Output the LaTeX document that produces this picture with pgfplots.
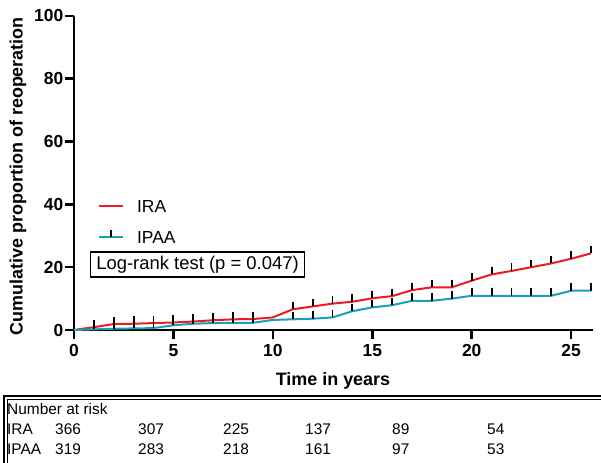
\documentclass[border=0pt]{standalone}
\usepackage{fontspec}
\setmainfont{Liberation Sans}
\usepackage{pgfplots}
\usepackage{pgfplotstable}
\pgfplotsset{compat=1.18}

\definecolor{ira}{RGB}{237,28,36}
\definecolor{ipaa}{RGB}{22,160,186}

% censoring tick: short bar going up from the curve
\pgfdeclareplotmark{censor}{%
  \pgfpathmoveto{\pgfqpoint{0pt}{0pt}}%
  \pgfpathlineto{\pgfqpoint{0pt}{7.5bp}}%
  \pgfusepathqstroke}

\pgfplotstableread{
t  ira   ipaa
0  0.0   0.0
1  0.9   0.2
2  1.9   0.4
3  2.0   0.5
4  2.2   0.6
5  2.4   1.5
6  2.7   2.0
7  3.1   2.2
8  3.4   2.3
9  3.5   2.3
10 4.0   3.2
11 6.6   3.4
12 7.5   3.6
13 8.4   4.0
14 9.0   6.0
15 10.1  7.2
16 10.8  7.9
17 12.7  9.3
18 13.6  9.3
19 13.6  10.0
20 15.7  10.9
21 17.7  10.9
22 18.8  10.9
23 20.0  10.9
24 21.2  10.9
25 22.7  12.5
26 24.4  12.5
}\kmdata

\begin{document}
\begin{tikzpicture}
\begin{axis}[
    at={(74bp,133bp)}, anchor=south west,
    scale only axis, width=519bp, height=314bp,
    xmin=0, xmax=26.1, ymin=0, ymax=100,
    axis x line=bottom, axis y line=left,
    axis line style={line width=2.9bp, -},
    xtick={0,5,...,25}, ytick={0,20,...,100},
    tick align=outside, major tick length=9bp,
    tick style={line width=2.6bp, black},
    /pgf/number format/assume math mode=true,
    tick label style={font=\bfseries\fontsize{17.5}{20}\selectfont, inner sep=1.5bp},
    xticklabel style={yshift=-4bp},
    xlabel={Time in years},
    ylabel={Cumulative proportion of reoperation},
    label style={font=\bfseries\fontsize{18}{21}\selectfont},
    xlabel style={at={(axis description cs:0.499,-0.162)}, anchor=center},
    ylabel style={at={(axis description cs:-0.108,0.49)}, anchor=center},
    clip=false,
    legend style={at={(rel axis cs:0.046,0.415)}, anchor=north west,
        draw=none, fill=none, inner sep=0pt, row sep=16.5bp,
        font=\fontsize{17.5}{20}\selectfont,
        nodes={inner sep=0pt, text height=12.5bp, text depth=0pt},
        /tikz/every odd column/.append style={column sep=13bp}},
    legend cell align=left,
]
\addplot[ira, line width=2bp, mark=censor,
    mark options={black, line width=1.9bp},
    mark indices={2,3,4,5,6,7,8,9,10,12,13,14,15,16,17,18,19,20,21,22,23,24,25,26,27},
    legend image code/.code={\draw[ira, line width=2bp, mark=none] (0bp,0bp) -- (24bp,0bp);}]
    table[x=t, y=ira] {\kmdata};
\addlegendentry{IRA}
\addplot[ipaa, line width=2bp, mark=censor,
    mark options={black, line width=1.9bp},
    mark indices={2,3,4,5,6,7,8,9,10,12,13,14,15,16,17,18,19,20,21,22,23,24,25,26,27},
    legend image code/.code={%
        \draw[ipaa, line width=2bp, mark=none] (0bp,0bp) -- (24bp,0bp);
        \draw[black, line width=1.9bp] (12bp,0bp) -- (12bp,7.5bp);}]
    table[x=t, y=ipaa] {\kmdata};
\addlegendentry{IPAA}
\node[draw=black, line width=1.5bp, inner xsep=6bp, inner ysep=4bp,
    font=\fontsize{18.5}{21}\selectfont]
    at (rel axis cs:0.238,0.2086) {Log-rank test (p = 0.047)};
\end{axis}

% number at risk table
\draw[line width=1.6bp] (4bp,-10bp) |- (640bp,67bp);
\draw[line width=0.6bp] (7bp,-10bp) |- (640bp,64bp);
\begin{scope}[every node/.style={anchor=base west, inner sep=0pt, font=\fontsize{15.5}{18}\selectfont}]
\node at (7bp,48.5bp) {Number at risk};
\node at (7bp,28.5bp) {IRA};
\node at (7bp,8.5bp) {IPAA};
\node at (55bp,28.5bp) {366};
\node at (138bp,28.5bp) {307};
\node at (223bp,28.5bp) {225};
\node at (305bp,28.5bp) {137};
\node at (392bp,28.5bp) {89};
\node at (487bp,28.5bp) {54};
\node at (55bp,8.5bp) {319};
\node at (138bp,8.5bp) {283};
\node at (223bp,8.5bp) {218};
\node at (305bp,8.5bp) {161};
\node at (392bp,8.5bp) {97};
\node at (487bp,8.5bp) {53};
\end{scope}

\pgfresetboundingbox
\path[use as bounding box] (0bp,0bp) rectangle (601bp,463bp);
\end{tikzpicture}
\end{document}
